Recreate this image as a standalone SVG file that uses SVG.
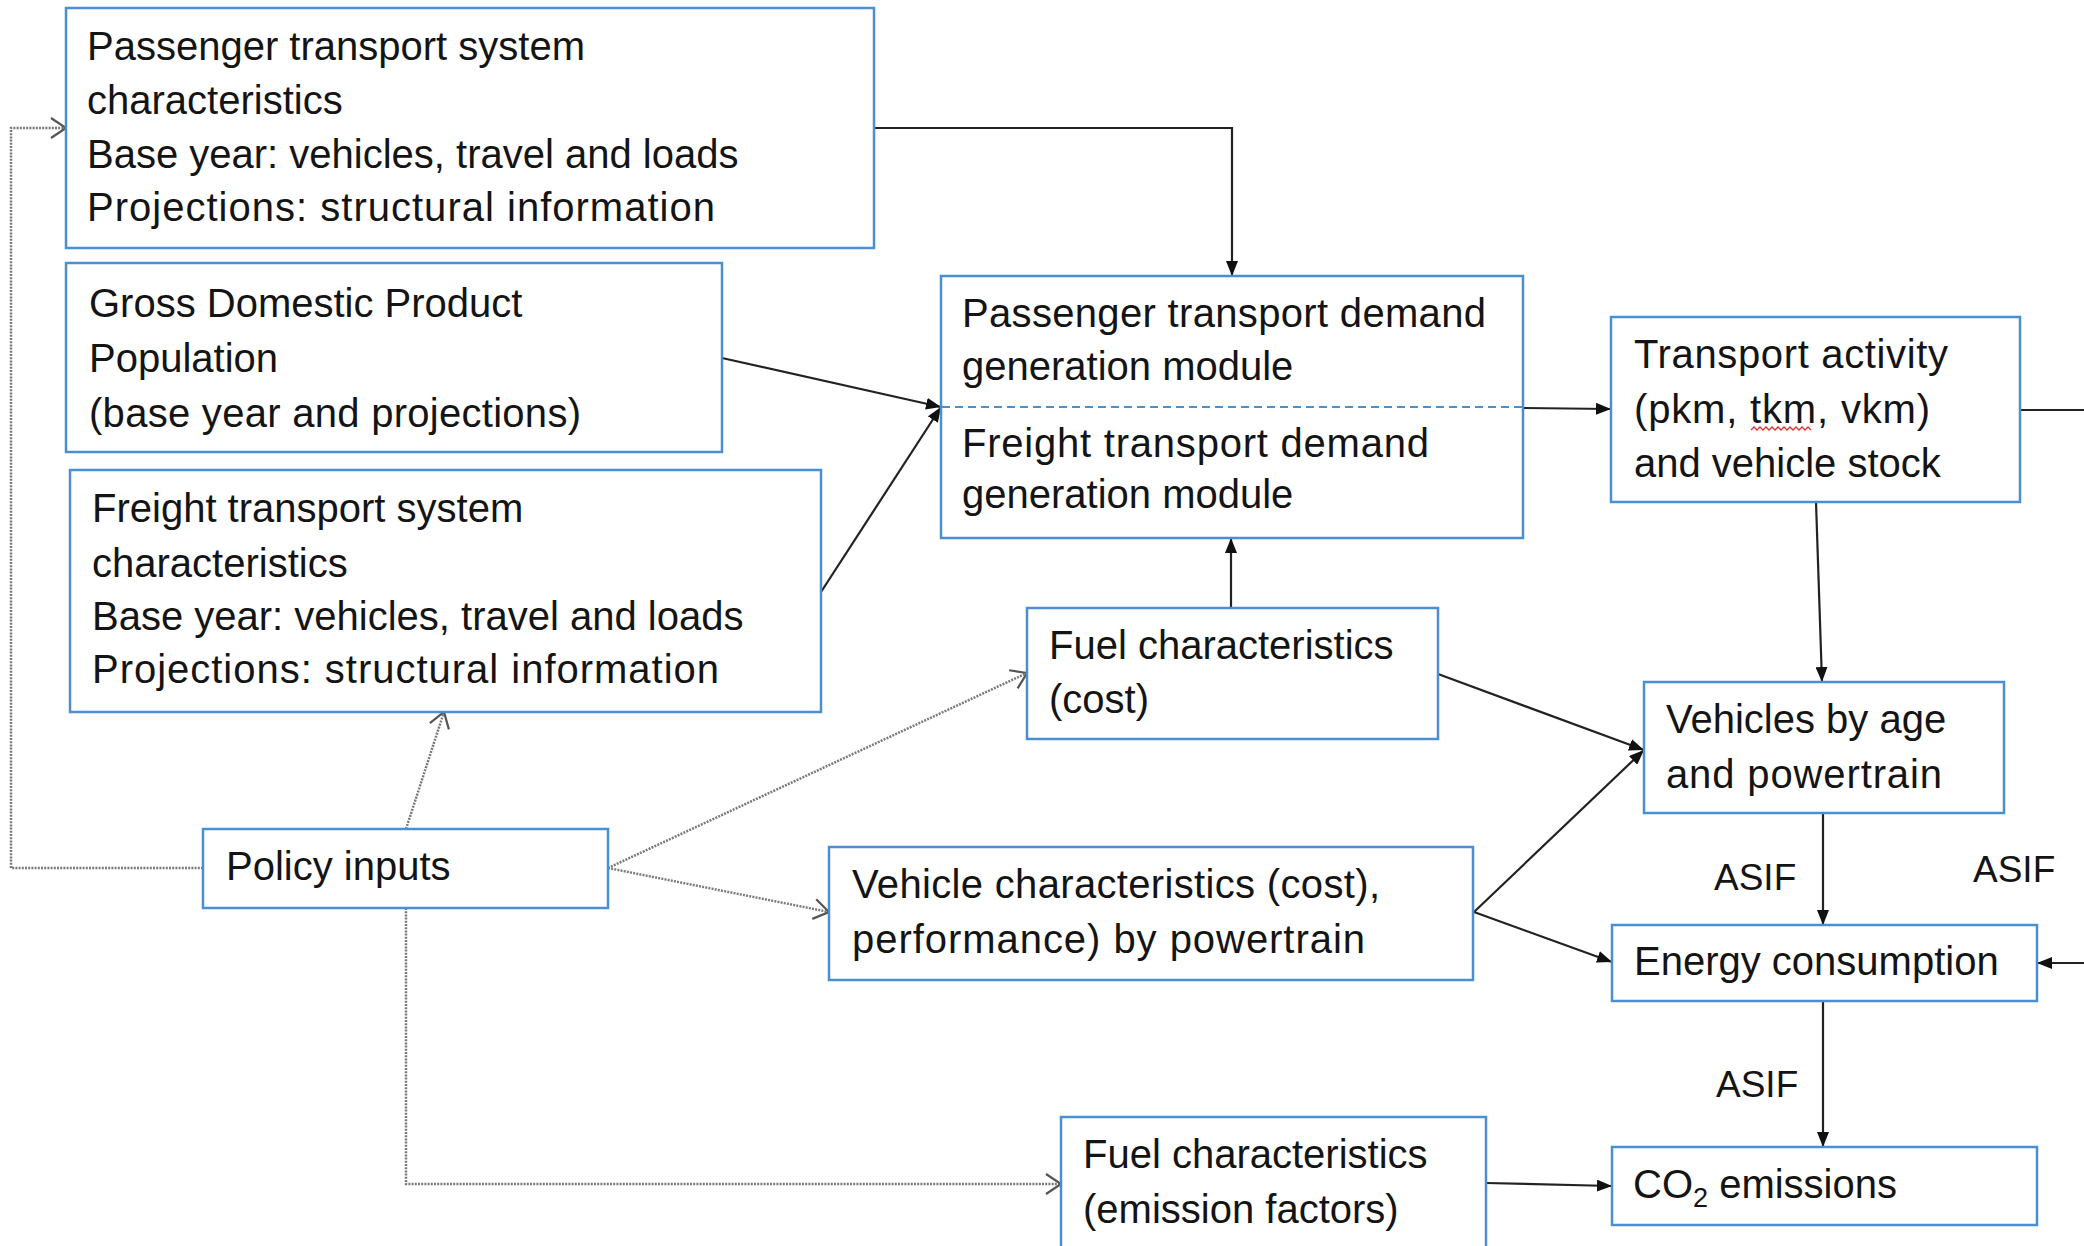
<svg xmlns="http://www.w3.org/2000/svg" width="2084" height="1246" viewBox="0 0 2084 1246">
  <style>
    .box { fill: #ffffff; stroke: #4a8fd4; stroke-width: 2.5; }
    .t { font-family: "Liberation Sans", Arial, sans-serif; font-size: 40px; fill: #141414; }
    .lbl { font-family: "Liberation Sans", Arial, sans-serif; font-size: 37px; fill: #141414; }
    .solid { fill: none; stroke: #222222; stroke-width: 2.2; marker-end: url(#arrowFilled); }
    .plain { fill: none; stroke: #222222; stroke-width: 2.2; }
    .dottedArrow { fill: none; stroke: #7a7a7a; stroke-width: 2.5; stroke-dasharray: 2 1.2; marker-end: url(#arrowOpen); }
    .divider { fill: none; stroke: #4a8fd4; stroke-width: 2; stroke-dasharray: 8 5; }
  </style>
  <defs>
    <marker id="arrowFilled" markerUnits="userSpaceOnUse" markerWidth="16" markerHeight="12" refX="15" refY="6" orient="auto">
      <path d="M0,0 L15,6 L0,12 z" fill="#111111"/>
    </marker>
    <marker id="arrowOpen" markerUnits="userSpaceOnUse" markerWidth="20" markerHeight="24" refX="17" refY="11" orient="auto" overflow="visible">
      <path d="M2,1 L17,11 L2,21" fill="none" stroke="#555555" stroke-width="2.2"/>
    </marker>
  </defs>
  <rect x="0" y="0" width="2084" height="1246" fill="#ffffff"/>

  <g id="connectors">
    <polyline class="solid" points="874,128 1232,128 1232,276"/>
    <line class="solid" x1="722" y1="358" x2="941" y2="407"/>
    <line class="solid" x1="821" y1="592" x2="941" y2="407"/>
    <line class="solid" x1="1523" y1="408" x2="1611" y2="409"/>
    <line class="solid" x1="1231" y1="608" x2="1231" y2="538"/>
    <line class="solid" x1="1816" y1="502" x2="1822" y2="682"/>
    <line class="solid" x1="1438" y1="674" x2="1644" y2="750"/>
    <line class="solid" x1="1474" y1="912" x2="1644" y2="750"/>
    <line class="solid" x1="1474" y1="912" x2="1612" y2="962"/>
    <line class="solid" x1="1823" y1="813" x2="1823" y2="925"/>
    <line class="solid" x1="2084" y1="963" x2="2037" y2="963"/>
    <line class="plain" x1="2020" y1="410" x2="2084" y2="410"/>
    <line class="solid" x1="1823" y1="1001" x2="1823" y2="1147"/>
    <line class="solid" x1="1486" y1="1183" x2="1612" y2="1186"/>
    <polyline class="dottedArrow" points="203,868 11,868 11,128 66,128"/>
    <line class="dottedArrow" x1="406" y1="829" x2="444" y2="712"/>
    <line class="dottedArrow" x1="608" y1="868" x2="1027" y2="673"/>
    <line class="dottedArrow" x1="608" y1="868" x2="829" y2="912"/>
    <polyline class="dottedArrow" points="406,908 406,1184 1061,1184"/>
  </g>

  <g id="node-passenger-system">
    <rect class="box" x="66" y="8" width="808" height="240"/>
    <text class="t" x="87" y="60">Passenger transport system</text>
    <text class="t" x="87" y="114">characteristics</text>
    <text class="t" x="87" y="168">Base year: vehicles, travel and loads</text>
    <text class="t" x="87" y="221" textLength="628" lengthAdjust="spacing">Projections: structural information</text>
  </g>

  <g id="node-gdp">
    <rect class="box" x="66" y="263" width="656" height="189"/>
    <text class="t" x="89" y="317">Gross Domestic Product</text>
    <text class="t" x="89" y="372">Population</text>
    <text class="t" x="89" y="427" textLength="492" lengthAdjust="spacing">(base year and projections)</text>
  </g>

  <g id="node-freight-system">
    <rect class="box" x="70" y="470" width="751" height="242"/>
    <text class="t" x="92" y="522">Freight transport system</text>
    <text class="t" x="92" y="577">characteristics</text>
    <text class="t" x="92" y="630">Base year: vehicles, travel and loads</text>
    <text class="t" x="92" y="683" textLength="627" lengthAdjust="spacing">Projections: structural information</text>
  </g>

  <g id="node-demand-modules">
    <rect class="box" x="941" y="276" width="582" height="262"/>
    <line class="divider" x1="942" y1="407" x2="1522" y2="407"/>
    <text class="t" x="962" y="327" textLength="524" lengthAdjust="spacing">Passenger transport demand</text>
    <text class="t" x="962" y="380">generation module</text>
    <text class="t" x="962" y="457" textLength="467" lengthAdjust="spacing">Freight transport demand</text>
    <text class="t" x="962" y="508">generation module</text>
  </g>

  <g id="node-transport-activity">
    <rect class="box" x="1611" y="317" width="409" height="185"/>
    <text class="t" x="1634" y="368" textLength="314" lengthAdjust="spacing">Transport activity</text>
    <text class="t" x="1634" y="423" textLength="296" lengthAdjust="spacing">(pkm, tkm, vkm)</text>
    <text class="t" x="1634" y="477">and vehicle stock</text>
    <path d="M1751,430 l3,-3 l3,3 l3,-3 l3,3 l3,-3 l3,3 l3,-3 l3,3 l3,-3 l3,3 l3,-3 l3,3 l3,-3 l3,3 l3,-3 l3,3 l3,-3 l3,3 l3,-3 l3,3" fill="none" stroke="#e03030" stroke-width="1.3"/>
  </g>

  <g id="node-fuel-cost">
    <rect class="box" x="1027" y="608" width="411" height="131"/>
    <text class="t" x="1049" y="659">Fuel characteristics</text>
    <text class="t" x="1049" y="713">(cost)</text>
  </g>

  <g id="node-vehicles-age">
    <rect class="box" x="1644" y="682" width="360" height="131"/>
    <text class="t" x="1666" y="733">Vehicles by age</text>
    <text class="t" x="1666" y="788" textLength="276" lengthAdjust="spacing">and powertrain</text>
  </g>

  <g id="node-policy">
    <rect class="box" x="203" y="829" width="405" height="79"/>
    <text class="t" x="226" y="880">Policy inputs</text>
  </g>

  <g id="node-vehicle-characteristics">
    <rect class="box" x="829" y="847" width="644" height="133"/>
    <text class="t" x="852" y="898" textLength="528" lengthAdjust="spacing">Vehicle characteristics (cost),</text>
    <text class="t" x="852" y="953" textLength="513" lengthAdjust="spacing">performance) by powertrain</text>
  </g>

  <g id="node-energy">
    <rect class="box" x="1612" y="925" width="425" height="76"/>
    <text class="t" x="1634" y="975">Energy consumption</text>
  </g>

  <g id="node-fuel-emission">
    <rect class="box" x="1061" y="1117" width="425" height="160"/>
    <text class="t" x="1083" y="1168">Fuel characteristics</text>
    <text class="t" x="1083" y="1223">(emission factors)</text>
  </g>

  <g id="node-co2">
    <rect class="box" x="1612" y="1147" width="425" height="78"/>
    <text class="t" x="1633" y="1198">CO<tspan font-size="27" dy="9">2</tspan><tspan dy="-9"> emissions</tspan></text>
  </g>

  <g id="labels">
    <text class="lbl" x="1714" y="890">ASIF</text>
    <text class="lbl" x="1973" y="882">ASIF</text>
    <text class="lbl" x="1716" y="1097">ASIF</text>
  </g>
</svg>
